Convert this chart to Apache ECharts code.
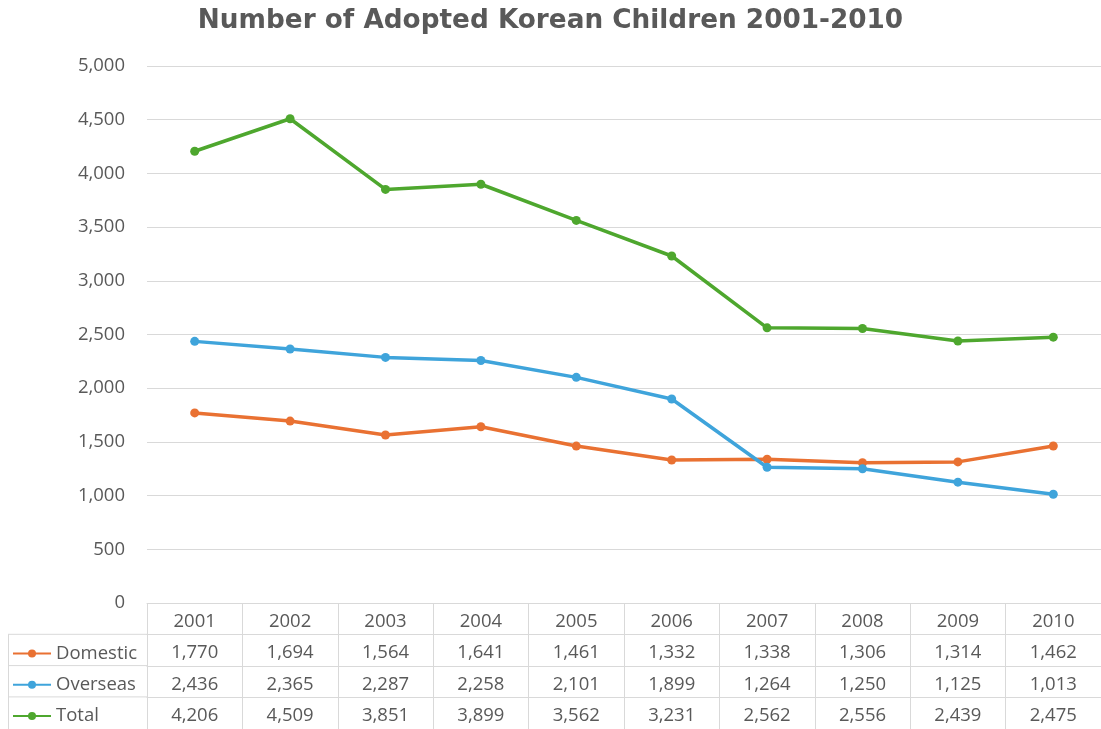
<!DOCTYPE html>
<html>
<head>
<meta charset="utf-8">
<script src="https://cdn.jsdelivr.net/npm/echarts@6/dist/echarts.min.js"></script>
<style>
html,body{margin:0;padding:0;background:#fff;}
#chart{width:1101px;height:729px;}
</style>
</head>
<body>
<div id="chart"></div>
<script>
var years = ['2001','2002','2003','2004','2005','2006','2007','2008','2009','2010'];
var domestic = [1770,1694,1564,1641,1461,1332,1338,1306,1314,1462];
var overseas = [2436,2365,2287,2258,2101,1899,1264,1250,1125,1013];
var total = [4206,4509,3851,3899,3562,3231,2562,2556,2439,2475];
var seriesNames = ['Domestic','Overseas','Total'];
var colors = ['#E97132','#3FA4DB','#4EA72E'];

var FONT = 'Open Sans';
var TXT = '#595959';
var LINE = '#D9D9D9';
var FS = 18.5;

function fmt(v){ return v.toLocaleString('en-US'); }

var gridLeft = 147, gridTop = 66, gridH = 537, rowH = 31.3;
var tableTop = gridTop + gridH;
var LBL_SHIFT = 3;

function rowAxis(values, k){
  return {
    type:'category', data: years, position:'bottom', gridIndex:0,
    offset: Math.round(rowH*(k+1)),
    axisLine:{show:true, lineStyle:{color:LINE, width:1}},
    axisTick:{show:false},
    axisLabel:{interval:0, verticalAlign:'middle', margin: rowH/2 + LBL_SHIFT, color:TXT, fontSize:FS, fontFamily:FONT,
      formatter:function(v, i){ return fmt(values[i]); }},
    splitLine:{show:false}
  };
}

var chart = echarts.init(document.getElementById('chart'), null, {renderer:'canvas'});
var dataSets = [domestic, overseas, total];

var option = {
  animation:false,
  backgroundColor:'#fff',
  title:{
    text:'Number of Adopted Korean Children 2001-2010',
    left:'center', top:8, padding:0,
    textStyle:{fontFamily:'DejaVu Sans', fontWeight:'bold', fontSize:26.3, color:TXT}
  },
  legend: seriesNames.map(function(n, k){
    return {
      orient:'horizontal', left:12, top: tableTop + rowH*(k+1) + rowH/2 - 6,
      itemWidth:38, itemHeight:10, padding:0, itemGap:0,
      textStyle:{fontFamily:FONT, fontSize:FS, color:TXT},
      data:[n]
    };
  }),
  grid:{left:gridLeft, top:gridTop, width:960, height:gridH, containLabel:false},
  xAxis:[
    {
      type:'category', data:years, position:'bottom', boundaryGap:true,
      axisLine:{show:true, lineStyle:{color:LINE, width:1}},
      axisTick:{show:true, interval:0, length:130, lineStyle:{color:LINE, width:1}},
      axisLabel:{interval:0, verticalAlign:'middle', margin: rowH/2 + LBL_SHIFT, color:TXT, fontSize:FS, fontFamily:FONT},
      splitLine:{show:false}
    },
    rowAxis(domestic,0),
    rowAxis(overseas,1),
    rowAxis(total,2)
  ],
  yAxis:{
    type:'value', min:0, max:5000, interval:500,
    axisLine:{show:false}, axisTick:{show:false},
    axisLabel:{color:TXT, fontSize:FS, fontFamily:FONT, margin:22, formatter:function(v){return fmt(v);}},
    splitLine:{lineStyle:{color:LINE, width:1}}
  },
  graphic:[
    {type:'line', shape:{x1:8, y1:tableTop+rowH, x2:gridLeft, y2:tableTop+rowH}, style:{stroke:LINE, lineWidth:1}},
    {type:'line', shape:{x1:8, y1:tableTop+2*rowH, x2:gridLeft, y2:tableTop+2*rowH}, style:{stroke:LINE, lineWidth:1}},
    {type:'line', shape:{x1:8, y1:tableTop+3*rowH, x2:gridLeft, y2:tableTop+3*rowH}, style:{stroke:LINE, lineWidth:1}},
    {type:'line', shape:{x1:8.5, y1:tableTop+rowH, x2:8.5, y2:729}, style:{stroke:LINE, lineWidth:1}}
  ],
  series: seriesNames.map(function(n, k){
    return {
      name:n, type:'line', xAxisIndex:0, yAxisIndex:0, data:dataSets[k],
      symbol:'circle', symbolSize:9,
      lineStyle:{width:3.5, color:colors[k]},
      itemStyle:{color:colors[k]},
      z: 3
    };
  })
};
chart.setOption(option);
</script>
</body>
</html>
